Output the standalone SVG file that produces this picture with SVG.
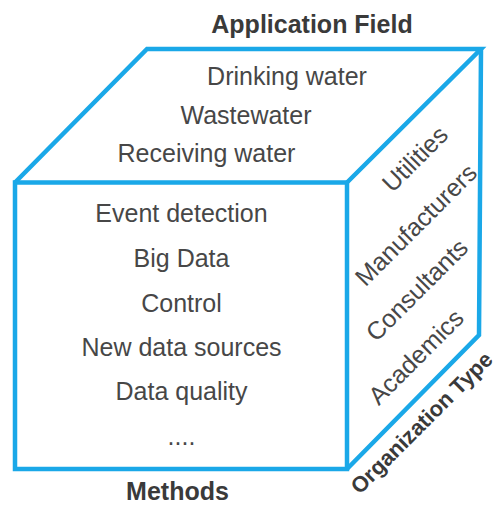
<svg xmlns="http://www.w3.org/2000/svg" width="497" height="505" viewBox="0 0 497 505">
<style>
.edge{fill:none;stroke:#1aa8e8;stroke-width:4.5;stroke-linejoin:miter}
text{font-family:"Liberation Sans",Arial,sans-serif;fill:#474747;text-anchor:middle}
.t{font-size:25px}
.h{font-size:25px;font-weight:bold;fill:#3a3a3a}
</style>
<rect width="497" height="505" fill="#fff"/>
<g id="connectors">
<path class="edge" d="M15,182.5 L147,49 H481 L347,182.5"/>
<path class="edge" d="M481,49 L479,335 L347,469"/>
</g>
<g id="front-face">
<rect class="edge" x="15" y="182.5" width="332" height="286.5"/>
<text class="t" x="181.5" y="222">Event detection</text>
<text class="t" x="181.5" y="267">Big Data</text>
<text class="t" x="181.5" y="311.5">Control</text>
<text class="t" x="181.5" y="355.5">New data sources</text>
<text class="t" x="181.5" y="400">Data quality</text>
<text class="t" x="181.5" y="445">....</text>
</g>
<g id="top-face">
<text class="t" x="287" y="85">Drinking water</text>
<text class="t" x="246" y="123.5">Wastewater</text>
<text class="t" x="206.5" y="162">Receiving water</text>
</g>
<g id="side-face">
<text class="t" transform="translate(421,165) rotate(-45)">Utilities</text>
<text class="t" transform="translate(422,231) rotate(-45)">Manufacturers</text>
<text class="t" transform="translate(423,296) rotate(-45)">Consultants</text>
<text class="t" transform="translate(422,363) rotate(-45)">Academics</text>
</g>
<g id="labels">
<text class="h" x="312" y="33">Application Field</text>
<text class="h" x="177.5" y="500">Methods</text>
<text class="h" style="font-size:22px" transform="translate(427,428) rotate(-45)">Organization Type</text>
</g>
</svg>
